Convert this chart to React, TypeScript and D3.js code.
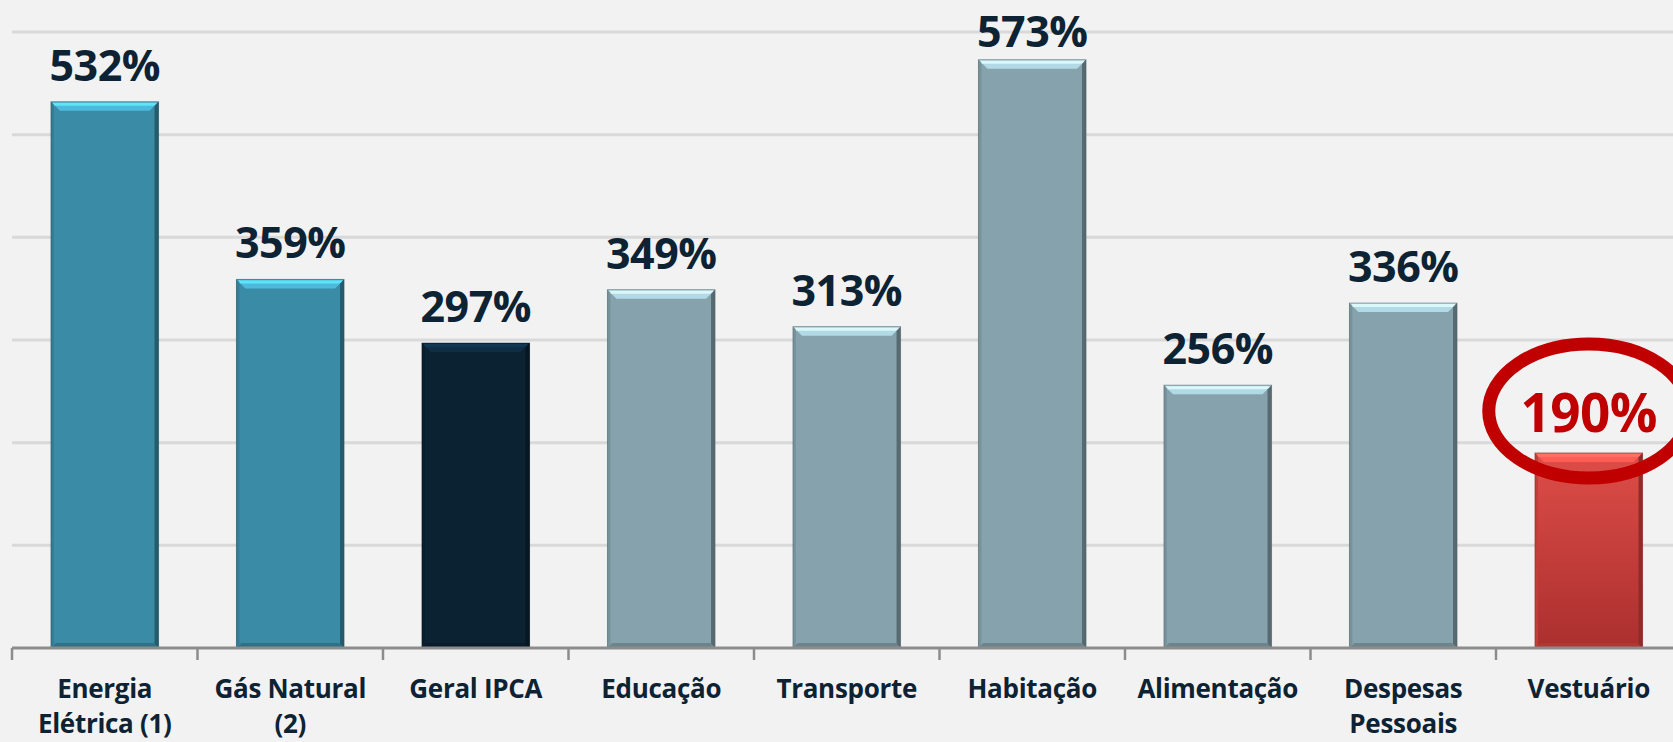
import { useEffect, useRef } from 'react';
import * as d3 from 'd3';

// dados (variação acumulada, %)
const categories = [
  'Energia Elétrica (1)',
  'Gás Natural (2)',
  'Geral IPCA',
  'Educação',
  'Transporte',
  'Habitação',
  'Alimentação',
  'Despesas Pessoais',
  'Vestuário',
];
const values = [532, 359, 297, 349, 313, 573, 256, 336, 190];
const groups = ['energia', 'energia', 'ipca', 'item', 'item', 'item', 'item', 'item', 'destaque'];
const yTicks = [0, 100, 200, 300, 400, 500, 600];

const W = 1673;
const H = 742;

const palette: Record<string, string> = {
  energia: '#3a8ca6',
  ipca: '#0b2233',
  item: '#86a3ad',
  destaque: '#d8453f',
};

export default function App() {
  const svgRef = useRef<SVGSVGElement | null>(null);

  useEffect(() => {
    document.body.style.margin = '0';
    const svg = d3.select(svgRef.current);
    svg.selectAll('*').remove();

    const left = 12;
    const axisY = 648;
    const n = categories.length;
    const step = 185.5;

    svg.append('rect').attr('width', W).attr('height', H).attr('fill', '#f2f2f2');

    const x = d3.scaleBand<string>()
      .domain(categories)
      .range([left, left + step * n])
      .paddingInner(0.42)
      .paddingOuter(0.21);

    const y = d3.scaleLinear().domain([0, 600]).range([axisY, 32]);

    // ── linhas de grade ────────────────────────────────
    svg.append('g')
      .selectAll('line')
      .data(yTicks.filter(t => t > 0))
      .join('line')
      .attr('x1', left).attr('x2', W)
      .attr('y1', d => y(d)).attr('y2', d => y(d))
      .attr('stroke', '#d9d9d9').attr('stroke-width', 3);

    const defs = svg.append('defs');
    const red = defs.append('linearGradient')
      .attr('id', 'grad-red').attr('x1', 0).attr('y1', 0).attr('x2', 0).attr('y2', 1);
    red.append('stop').attr('offset', '0%').attr('stop-color', '#de4d48');
    red.append('stop').attr('offset', '100%').attr('stop-color', '#ab2f2e');

    // ── barras (efeito bisel) ───────────────────────────
    const b = 9;
    const bars = svg.append('g')
      .selectAll('g')
      .data(values.map((v, i) => ({ v, cat: categories[i], grp: groups[i] })))
      .join('g');

    bars.each(function (d) {
      const g = d3.select(this);
      const x0 = x(d.cat)!;
      const x1 = x0 + x.bandwidth();
      const y0 = y(d.v);
      const y1 = y(0);
      const base = d3.color(palette[d.grp])!;

      g.append('rect')
        .attr('x', x0).attr('y', y0)
        .attr('width', x1 - x0).attr('height', y1 - y0)
        .attr('fill', d.grp === 'destaque' ? 'url(#grad-red)' : base.formatHex());

      // topo claro
      g.append('path')
        .attr('d', `M${x0},${y0}L${x1},${y0}L${x1 - b},${y0 + b}L${x0 + b},${y0 + b}Z`)
        .attr('fill', base.brighter(0.8).formatHex());
      g.append('line')
        .attr('x1', x0 + 2).attr('x2', x1 - 2).attr('y1', y0 + 2.5).attr('y2', y0 + 2.5)
        .attr('stroke', base.brighter(1.5).formatHex()).attr('stroke-width', 3).attr('opacity', 0.8);
      // lateral direita escura
      g.append('path')
        .attr('d', `M${x1},${y0}L${x1},${y1}L${x1 - 4},${y1 - 4}L${x1 - 4},${y0 + 4}Z`)
        .attr('fill', base.darker(1.2).formatHex());
      // base escura
      g.append('path')
        .attr('d', `M${x0},${y1}L${x1},${y1}L${x1 - 5},${y1 - 5}L${x0 + 5},${y1 - 5}Z`)
        .attr('fill', base.darker(0.6).formatHex());
      // lateral esquerda
      g.append('path')
        .attr('d', `M${x0},${y0}L${x0 + 3},${y0 + 3}L${x0 + 3},${y1 - 3}L${x0},${y1}Z`)
        .attr('fill', base.darker(0.3).formatHex());
      g.append('rect')
        .attr('x', x0).attr('y', y0)
        .attr('width', x1 - x0).attr('height', y1 - y0)
        .attr('fill', 'none').attr('stroke', base.darker(1.5).formatHex())
        .attr('stroke-opacity', 0.5).attr('stroke-width', 1);
    });

    // ── rótulos de valor ───────────────────────────────
    const labelY = (v: number) => Math.max(y(v) - 21, 47);
    svg.append('g')
      .selectAll('text')
      .data(values.map((v, i) => ({ v, cat: categories[i], grp: groups[i] })))
      .join('text')
      .attr('x', d => x(d.cat)! + x.bandwidth() / 2)
      .attr('y', d => labelY(d.v))
      .attr('text-anchor', 'middle')
      .attr('font-family', '"Open Sans", sans-serif')
      .attr('font-weight', 700)
      .attr('font-size', d => (d.grp === 'destaque' ? 53 : 43))
      .attr('letter-spacing', -0.5)
      .attr('fill', d => (d.grp === 'destaque' ? '#c00000' : '#0d2233'))
      .text(d => `${d.v}%`);

    // destaque: elipse em volta do rótulo
    groups.forEach((grp, i) => {
      if (grp !== 'destaque') return;
      const cx = x(categories[i])! + x.bandwidth() / 2;
      const cy = labelY(values[i]) - 21;
      svg.append('ellipse')
        .attr('cx', cx).attr('cy', cy)
        .attr('rx', 100).attr('ry', 67)
        .attr('fill', 'none').attr('stroke', '#c00000').attr('stroke-width', 13);
    });

    // ── eixo X ─────────────────────────────────────────
    const axis = svg.append('g');
    axis.append('line')
      .attr('x1', left).attr('x2', W).attr('y1', axisY).attr('y2', axisY)
      .attr('stroke', '#8c8c8c').attr('stroke-width', 3);
    axis.selectAll('line.tick')
      .data(d3.range(n + 1))
      .join('line')
      .attr('class', 'tick')
      .attr('x1', i => left + i * x.step()).attr('x2', i => left + i * x.step())
      .attr('y1', axisY).attr('y2', axisY + 12)
      .attr('stroke', '#8c8c8c').attr('stroke-width', 2.5);

    const catText = svg.append('g')
      .selectAll('text')
      .data(categories)
      .join('text')
      .attr('x', d => x(d)! + x.bandwidth() / 2)
      .attr('y', 698)
      .attr('text-anchor', 'middle')
      .attr('font-family', '"Open Sans", sans-serif')
      .attr('font-weight', 700)
      .attr('font-size', 26)
      .attr('letter-spacing', -0.3)
      .attr('fill', '#0d2233');

    // quebra de linha pela largura da faixa
    const maxW = x.step() * 0.95;
    catText.each(function (d) {
      const t = d3.select(this);
      const cx = +t.attr('x');
      const words = d.split(' ');
      let line: string[] = [];
      let tspan = t.append('tspan').attr('x', cx).attr('dy', 0);
      words.forEach(w => {
        line.push(w);
        tspan.text(line.join(' '));
        if ((tspan.node() as SVGTSpanElement).getComputedTextLength() > maxW && line.length > 1) {
          line.pop();
          tspan.text(line.join(' '));
          line = [w];
          tspan = t.append('tspan').attr('x', cx).attr('dy', 35).text(w);
        }
      });
    });
  }, []);

  return <svg ref={svgRef} width={W} height={H} style={{ display: 'block' }} />;
}
